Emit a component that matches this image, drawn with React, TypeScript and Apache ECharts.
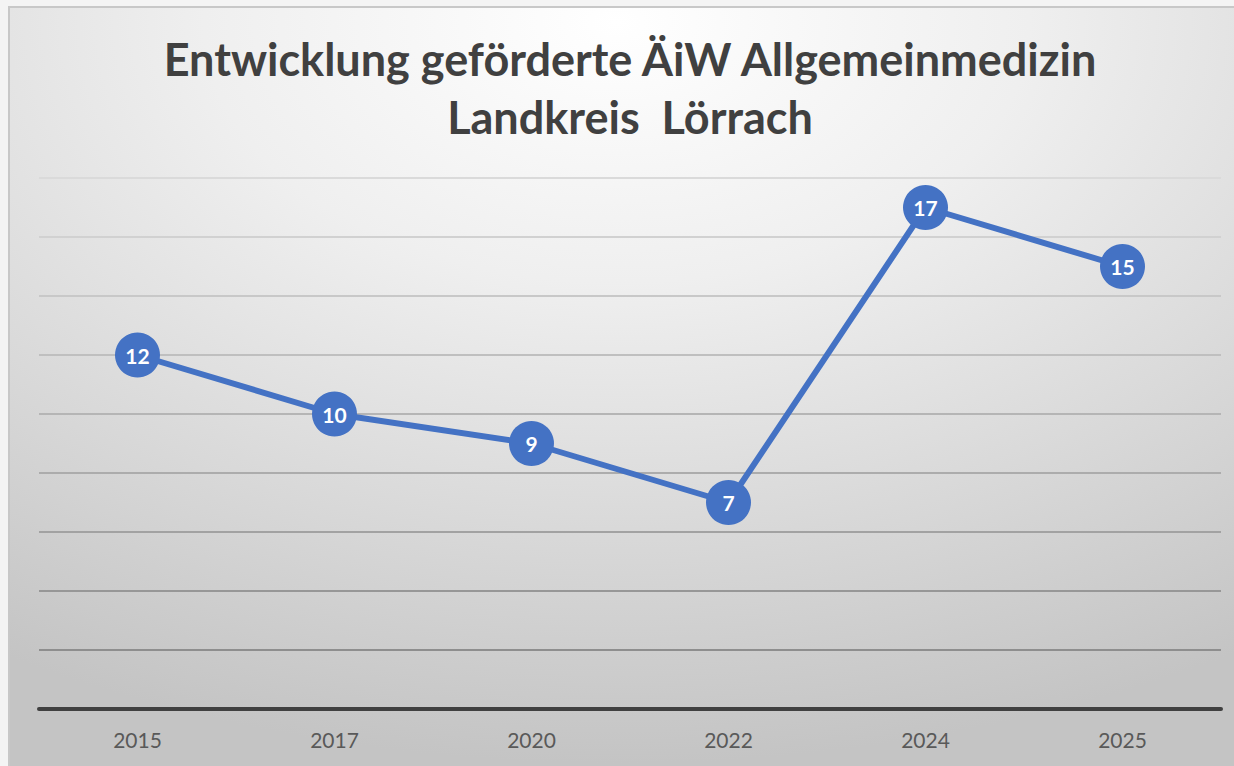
import React, { useEffect, useRef } from "react";
import * as echarts from "echarts";

const titleLines = ["Entwicklung geförderte ÄiW Allgemeinmedizin", "Landkreis  Lörrach"];
const years = ["2015", "2017", "2020", "2022", "2024", "2025"];
const values = [12, 10, 9, 7, 17, 15];
const yMin = 0;
const yMax = 18;
const yInterval = 2;
// gridline colours from value 0 upward
const gridColors = ["#404040", "#8e8e8e", "#979797", "#a2a2a2", "#acacac", "#b5b5b5", "#bfbfbf", "#c8c8c8", "#d1d1d1", "#dadada"];

export default function App() {
  const ref = useRef<HTMLDivElement>(null);
  useEffect(() => {
    if (!ref.current) return;
    const chart = echarts.init(ref.current, undefined, { renderer: "svg" });
    chart.setOption({
      animation: false,
      backgroundColor: "#f4f4f4",
      graphic: [
        {
          type: "rect",
          z: -100,
          silent: true,
          shape: { x: 9, y: 7, width: 1240, height: 780 },
          style: {
            fill: new echarts.graphic.RadialGradient(0.49, 0.02, 0.95, [
              { offset: 0, color: "#ffffff" },
              { offset: 0.35, color: "#efefef" },
              { offset: 1, color: "#c4c4c4" },
            ]),
            stroke: "#c8c8c8",
            lineWidth: 2,
          },
        },
        {
          type: "text",
          z: 10,
          style: {
            text: titleLines[0],
            x: 630,
            y: 59,
            textAlign: "center",
            textVerticalAlign: "middle",
            fontFamily: "Lato",
            fontWeight: "bold",
            fontSize: 45,
            fill: "#404040",
          },
        },
        {
          type: "text",
          z: 10,
          style: {
            text: titleLines[1],
            x: 630,
            y: 117,
            textAlign: "center",
            textVerticalAlign: "middle",
            fontFamily: "Lato",
            fontWeight: "bold",
            fontSize: 45,
            fill: "#404040",
          },
        },
      ],
      grid: { left: 39, right: 13, top: 178, bottom: 57 },
      xAxis: {
        type: "category",
        data: years,
        boundaryGap: true,
        axisLine: { show: true, lineStyle: { color: "#404040", width: 4 } },
        axisTick: { show: false },
        axisLabel: { color: "#595959", fontSize: 21, fontFamily: "Lato", margin: 20 },
      },
      yAxis: {
        type: "value",
        min: yMin,
        max: yMax,
        interval: yInterval,
        axisLabel: { show: false },
        axisLine: { show: false },
        axisTick: { show: false },
        splitLine: { show: true, lineStyle: { color: gridColors, width: 2 } },
      },
      series: [
        {
          type: "line",
          data: values,
          symbol: "circle",
          symbolSize: 45,
          lineStyle: { color: "#4472c4", width: 6 },
          itemStyle: { color: "#4472c4" },
          label: {
            show: true,
            position: "inside",
            color: "#ffffff",
            fontWeight: "bold",
            fontSize: 21,
            fontFamily: "Lato",
          },
          z: 5,
        },
      ],
    });
    return () => chart.dispose();
  }, []);
  return (
    <div
      ref={ref}
      style={{ position: "absolute", left: 0, top: 0, width: 1234, height: 766 }}
    />
  );
}
